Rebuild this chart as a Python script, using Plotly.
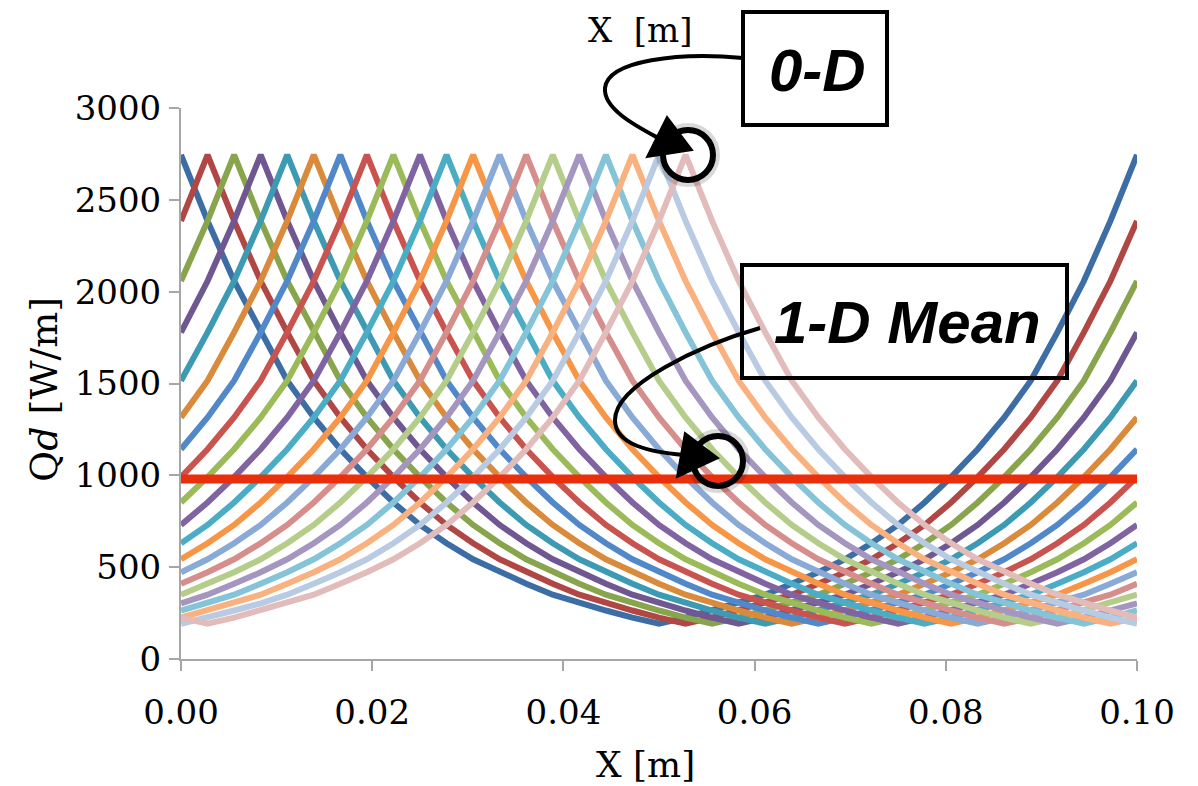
import plotly.graph_objects as go

# ---- data ----
x_grid = [k * 0.1 / 36 for k in range(37)]          # sample positions [m]
profile = [2745, 2385, 2058, 1778, 1515, 1315, 1142, 990, 852, 730, 630, 543,
           472, 410, 350, 303, 264, 225, 192, 225, 264, 303, 350, 410, 472,
           543, 630, 730, 852, 990, 1142, 1315, 1515, 1778, 2058, 2385, 2745]
peak_index = list(range(20))                          # peak of each series on x_grid
mean_value = 980
colors = ["#3D6DA5", "#B04744", "#88A54D", "#6F5791", "#3D9AB3", "#D98A3A",
          "#5188C9", "#C9534F", "#9BBB59", "#8064A2", "#4BACC6", "#F79646",
          "#89A9D6", "#D68E8C", "#B5CD8A", "#A596C0", "#84C3D8", "#F9B17F",
          "#B8CBE3", "#E2BCBB"]
x_ticks = [0.0, 0.02, 0.04, 0.06, 0.08, 0.10]
y_ticks = [0, 500, 1000, 1500, 2000, 2500, 3000]

fig = go.Figure()
for i, p in enumerate(peak_index):
    ys = [profile[(k - p) % 36] for k in range(37)]
    fig.add_trace(go.Scatter(x=x_grid, y=ys, mode="lines",
                             line=dict(color=colors[i], width=6),
                             showlegend=False, hoverinfo="skip"))
fig.add_trace(go.Scatter(x=[x_grid[0], x_grid[-1]], y=[mean_value, mean_value],
                         mode="lines", line=dict(color="#EA2F0C", width=9),
                         showlegend=False))

L, R, T, B = 181, 1137, 108, 659
def P(px, py):
    return ((px - L) / (R - L), (B - py) / (B - T))
def pt(px, py):
    a, b = P(px, py)
    return f"{a:.5f},{b:.5f}"

shapes = []
# boxes
for (x0, y0, x1, y1) in [(743, 12, 887, 125), (742, 265, 1067, 378)]:
    a0, b0 = P(x0, y1)
    a1, b1 = P(x1, y0)
    shapes.append(dict(type="rect", xref="paper", yref="paper", x0=a0, y0=b0,
                       x1=a1, y1=b1, line=dict(color="black", width=4)))
# curved arrows
shapes.append(dict(type="path", xref="paper", yref="paper",
                   path=f"M {pt(743,58)} C {pt(680,52)} {pt(608,60)} {pt(605,88)} "
                        f"C {pt(603,110)} {pt(640,128)} {pt(662,140)}",
                   line=dict(color="black", width=4)))
shapes.append(dict(type="path", xref="paper", yref="paper",
                   path=f"M {pt(667,117)} L {pt(647,157)} L {pt(692,150)} Z",
                   fillcolor="black", line=dict(color="black", width=2)))
shapes.append(dict(type="path", xref="paper", yref="paper",
                   path=f"M {pt(760,328)} C {pt(700,345)} {pt(615,385)} {pt(615,420)} "
                        f"C {pt(615,445)} {pt(650,452)} {pt(684,455)}",
                   line=dict(color="black", width=4)))
shapes.append(dict(type="path", xref="paper", yref="paper",
                   path=f"M {pt(685,433)} L {pt(677,477)} L {pt(718,458)} Z",
                   fillcolor="black", line=dict(color="black", width=2)))
# circles
for (cx, cy) in [(688, 155), (718, 461)]:
    a, b = P(cx, cy)
    shapes.append(dict(type="circle", xref="paper", yref="paper",
                       xsizemode="pixel", ysizemode="pixel", xanchor=a, yanchor=b,
                       x0=-27, x1=27, y0=-27, y1=27,
                       line=dict(color="rgba(0,0,0,0.15)", width=10)))
    shapes.append(dict(type="circle", xref="paper", yref="paper",
                       xsizemode="pixel", ysizemode="pixel", xanchor=a, yanchor=b,
                       x0=-25, x1=25, y0=-25, y1=25,
                       line=dict(color="black", width=6)))

annots = []
def add_text(txt, px, py, size, family, angle=0):
    a, b = P(px, py)
    annots.append(dict(text=txt, x=a, y=b, xref="paper", yref="paper",
                       showarrow=False, xanchor="center", yanchor="middle",
                       textangle=angle,
                       font=dict(size=size, family=family, color="black")))

add_text("<b><i>0-D</i></b>", 817, 70, 60, "Liberation Sans")
add_text("<b><i>1-D Mean</i></b>", 907, 322, 60, "Liberation Sans")
add_text("X\u00a0 [m]", 640, 30, 34, "DejaVu Serif")
add_text("X [m]", 645, 765, 36, "DejaVu Serif")
add_text("Q<i>d</i> [W/m]", 44, 390, 38, "DejaVu Serif", angle=-90)

fig.update_layout(
    width=1198, height=786,
    margin=dict(l=L, r=1198 - R, t=T, b=786 - B),
    paper_bgcolor="white", plot_bgcolor="white",
    shapes=shapes, annotations=annots,
    showlegend=False,
    xaxis=dict(range=[0, 0.1], tickvals=x_ticks, ticktext=[f"{v:.2f}" for v in x_ticks],
               showgrid=False, zeroline=False, showline=True, linecolor="#A6A6A6",
               linewidth=2, ticks="outside", ticklen=10, tickcolor="#A6A6A6",
               tickwidth=2, ticklabelstandoff=12,
               tickfont=dict(family="DejaVu Serif", size=34, color="black")),
    yaxis=dict(range=[0, 3000], tickvals=y_ticks,
               showgrid=False, zeroline=False, showline=True, linecolor="#A6A6A6",
               linewidth=2, ticks="outside", ticklen=10, tickcolor="#A6A6A6",
               tickwidth=2, ticklabelstandoff=1,
               tickfont=dict(family="DejaVu Serif", size=34, color="black")),
)
fig.write_html("out.html")
